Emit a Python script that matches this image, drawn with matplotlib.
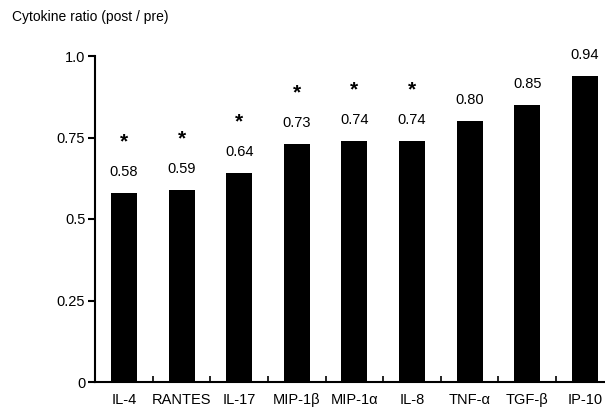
import matplotlib
matplotlib.use("Agg")
import matplotlib.pyplot as plt
from matplotlib.ticker import FixedLocator

plt.rcParams['font.family'] = ['Liberation Sans', 'DejaVu Sans']

categories = ["IL-4", "RANTES", "IL-17", "MIP-1β", "MIP-1α", "IL-8", "TNF-α", "TGF-β", "IP-10"]
values = [0.58, 0.59, 0.64, 0.73, 0.74, 0.74, 0.80, 0.85, 0.94]
value_labels = ["0.58", "0.59", "0.64", "0.73", "0.74", "0.74", "0.80", "0.85", "0.94"]
significant = [True, True, True, True, True, True, False, False, False]
yticks = [0, 0.25, 0.5, 0.75, 1.0]
ytick_labels = ["0", "0.25", "0.5", "0.75", "1.0"]

W, H = 605, 407
fig = plt.figure(figsize=(W / 100, H / 100), dpi=100)
left_px, right_px, bottom_px, top_px = 95, 605, 382, 56
ax = fig.add_axes([left_px / W, (H - bottom_px) / H, (right_px - left_px) / W, (bottom_px - top_px) / H])

x = list(range(len(categories)))
ax.bar(x, values, width=0.45, color="black", zorder=3)

ax.set_xlim(-0.503, 8.35)
ax.set_ylim(0, 1.0)

for spine in ["top", "right"]:
    ax.spines[spine].set_visible(False)
ax.spines["left"].set_linewidth(1.5)
ax.spines["bottom"].set_linewidth(1.5)

ax.set_yticks(yticks)
ax.set_yticklabels(ytick_labels, fontsize=10.5)
ax.tick_params(axis="y", direction="out", length=5, width=1.5, pad=2)

ax.set_xticks(x)
ax.set_xticklabels(categories, fontsize=10.5)
ax.tick_params(axis="x", which="major", length=0, pad=8)
ax.xaxis.set_minor_locator(FixedLocator([i + 0.5 for i in range(len(categories) - 1)]))
ax.tick_params(axis="x", which="minor", direction="in", length=4, width=1.2)

for xi, v, lab, sig in zip(x, values, value_labels, significant):
    ax.annotate(lab, (xi, v), xytext=(0, 21), textcoords="offset pixels",
                ha="center", va="center", fontsize=10.5)
    if sig:
        ax.annotate("*", (xi, v), xytext=(0, 51), textcoords="offset pixels",
                    ha="center", va="center", fontsize=15, fontweight="bold")

fig.text(12 / W, 1 - 17 / H, "Cytokine ratio (post / pre)", fontsize=10, ha="left", va="center")

fig.savefig("out.png", dpi=100)
